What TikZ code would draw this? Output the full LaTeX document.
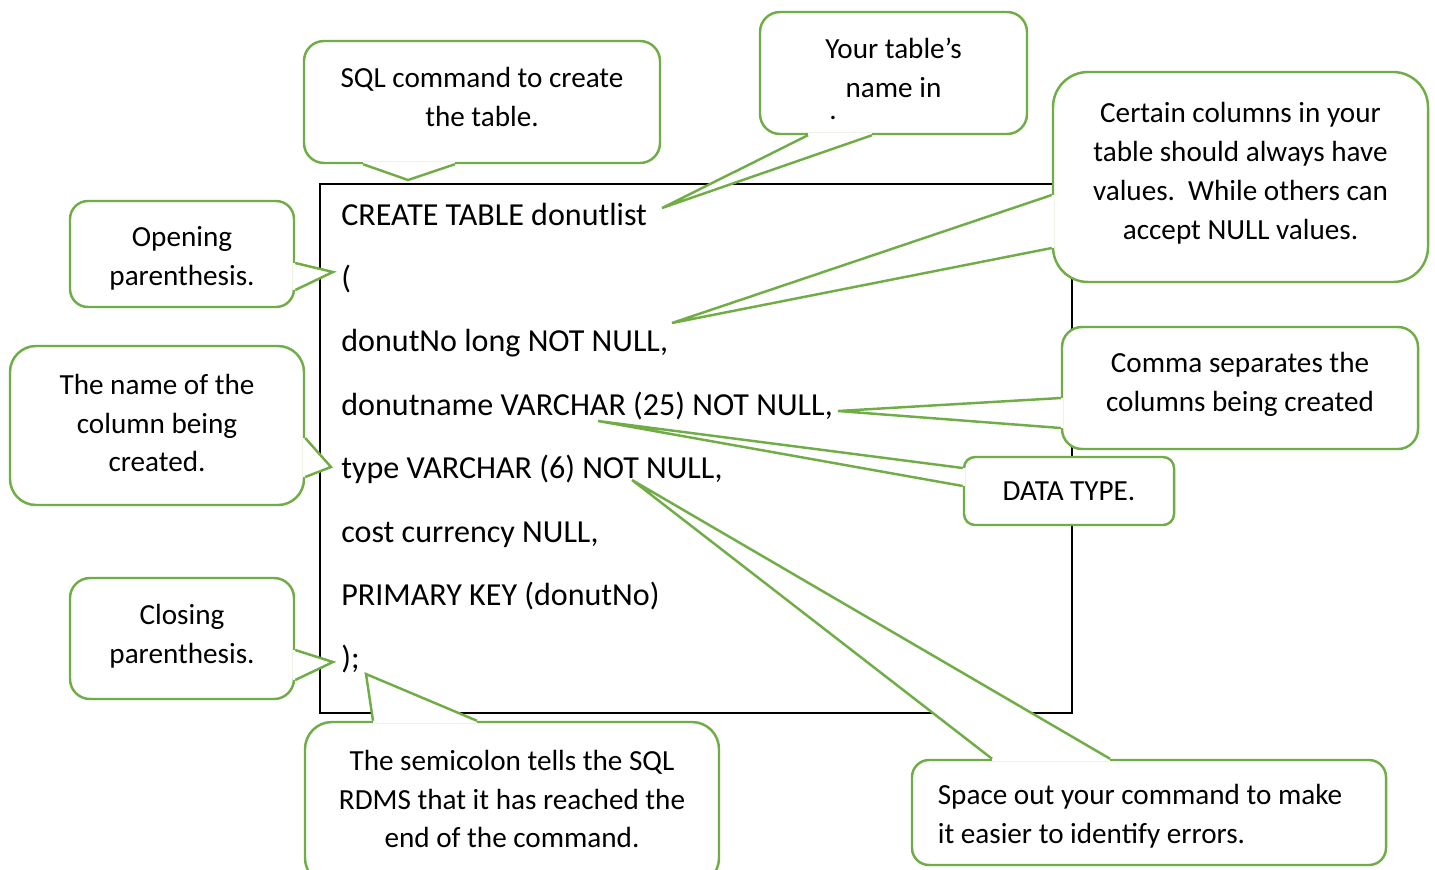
\documentclass[tikz,border=0pt]{standalone}
\usepackage{fontspec}
\setmainfont{Carlito}
\usetikzlibrary{calc}

\definecolor{calgreen}{HTML}{70AD47}
\newlength{\pxl}
\setlength{\pxl}{0.02cm}
\newcommand{\calfont}{\fontsize{16.6}{22.1}\selectfont}
\newcommand{\codefont}{\fontsize{18.25}{24}\selectfont}
% pointer of a callout: base point, base point, tip
\newcommand{\callpointer}[3]{%
  \fill[white] #1 -- #3 -- #2 -- cycle;
  \draw[white, line width=3pt] #1 -- #2;
  \draw[pointer] #1 -- #3 -- #2;
}

\begin{document}
\begin{tikzpicture}[x=0.02cm, y=-0.02cm,
  callout/.style={draw=calgreen, line width=1.4pt, fill=white, inner sep=0pt},
  calltext/.style={inner sep=0pt, align=center, font=\calfont},
  pointer/.style={draw=calgreen, line width=1.4pt, line join=miter},
  codeline/.style={anchor=base west, inner sep=0pt, font=\codefont}]
  \clip (0,0) rectangle (1435,869);

  % the code box
  \node [draw, line width=1.1pt, inner sep=0pt, minimum width=752\pxl, minimum height=529\pxl] (code) at (696,448.5) {};

  % where the pointers end
  \coordinate (tsql) at (408,180);
  \coordinate (tname) at (662,208);
  \coordinate (tnull) at (672,323);
  \coordinate (topen) at (333,272);
  \coordinate (tcol) at (331,467);
  \coordinate (tclose) at (333,662);
  \coordinate (tsemi) at (366,674);
  \coordinate (tcomma) at (838,411);
  \coordinate (ttype) at (598,421);
  \coordinate (tspace) at (632,480);

  % callouts
  \node [callout, rounded corners=20\pxl, minimum width=356\pxl, minimum height=122\pxl] (sql) at (482,102) {};
  \callpointer{($(sql.south)+(-119,0)$)}{($(sql.south)+(-27,0)$)}{(tsql)}
  \node [calltext] (sqltxt) at ($(sql)+(0,-5)$) {SQL command to create\\the table.};

  \node [callout, rounded corners=20\pxl, minimum width=267\pxl, minimum height=122\pxl] (name) at (893.5,73) {};
  \callpointer{($(name.south)+(-85.5,0)$)}{($(name.south)+(-21.5,0)$)}{(tname)}
  \node [calltext] (nametxt) at ($(name)+(0,-5)$) {Your table’s\\name in};
  \node [calltext] (dot) at (833,118) {.};

  \node [callout, rounded corners=35\pxl, minimum width=375\pxl, minimum height=210\pxl] (null) at (1240.5,177) {};
  \callpointer{($(null.west)+(0,18)$)}{($(null.west)+(0,71)$)}{(tnull)}
  \node [calltext] (nulltxt) at ($(null)+(0,-4)$) {Certain columns in your\\table should always have\\values.\ \ While others can\\accept NULL values.};

  \node [callout, rounded corners=18\pxl, minimum width=224\pxl, minimum height=106\pxl] (open) at (182,254) {};
  \callpointer{($(open.east)+(0,9)$)}{($(open.east)+(0,36)$)}{(topen)}
  \node [calltext] (opentxt) at ($(open)+(0,4.5)$) {Opening\\parenthesis.};

  \node [callout, rounded corners=26\pxl, minimum width=294\pxl, minimum height=159\pxl] (col) at (157,425.5) {};
  \callpointer{($(col.east)+(0,12.5)$)}{($(col.east)+(0,51.5)$)}{(tcol)}
  \node [calltext] (coltxt) at ($(col)+(0,-2.5)$) {The name of the\\column being\\created.};

  \node [callout, rounded corners=20\pxl, minimum width=224\pxl, minimum height=121\pxl] (close) at (182,638.5) {};
  \callpointer{($(close.east)+(0,11.5)$)}{($(close.east)+(0,41.5)$)}{(tclose)}
  \node [calltext] (closetxt) at ($(close)+(0,-2.5)$) {Closing\\parenthesis.};

  \node [callout, rounded corners=27\pxl, minimum width=414\pxl, minimum height=163\pxl] (semi) at (512,803.5) {};
  \callpointer{($(semi.north)+(-139,0)$)}{($(semi.north)+(-35,0)$)}{(tsemi)}
  \node [calltext] (semitxt) at ($(semi)+(0,-4.5)$) {The semicolon tells the SQL\\RDMS that it has reached the\\end of the command.};

  \node [callout, rounded corners=20\pxl, minimum width=356\pxl, minimum height=122\pxl] (comma) at (1240,388) {};
  \callpointer{($(comma.west)+(0,10)$)}{($(comma.west)+(0,40)$)}{(tcomma)}
  \node [calltext] (commatxt) at ($(comma)+(0,-4)$) {Comma separates the\\columns being created};

  \node [callout, rounded corners=11\pxl, minimum width=210\pxl, minimum height=68\pxl] (type) at (1069,491) {};
  \callpointer{($(type.west)+(0,-23)$)}{($(type.west)+(0,-5)$)}{(ttype)}
  \node [calltext] (typetxt) at (type) {DATA TYPE.};

  \node [callout, rounded corners=17\pxl, minimum width=474\pxl, minimum height=105\pxl] (space) at (1149,812.5) {};
  \callpointer{($(space.north)+(-157,0)$)}{($(space.north)+(-39,0)$)}{(tspace)}
  \node [calltext, align=left] (spacetxt) at ($(space)+(-9,4)$) {Space out your command to make\\it easier to identify errors.};

  % the code
  \node [codeline] (l1) at (341,225) {CREATE TABLE donutlist};
  \node [codeline] (l2) at (341,288.4) {(};
  \node [codeline] (l3) at (341,351.8) {donutNo long NOT NULL,};
  \node [codeline] (l4) at (341,415.2) {donutname VARCHAR (25) NOT NULL,};
  \node [codeline] (l5) at (341,478.6) {type VARCHAR (6) NOT NULL,};
  \node [codeline] (l6) at (341,542) {cost currency NULL,};
  \node [codeline] (l7) at (341,605.4) {PRIMARY KEY (donutNo)};
  \node [codeline] (l8) at (341,668.8) {);};
\end{tikzpicture}
\end{document}
